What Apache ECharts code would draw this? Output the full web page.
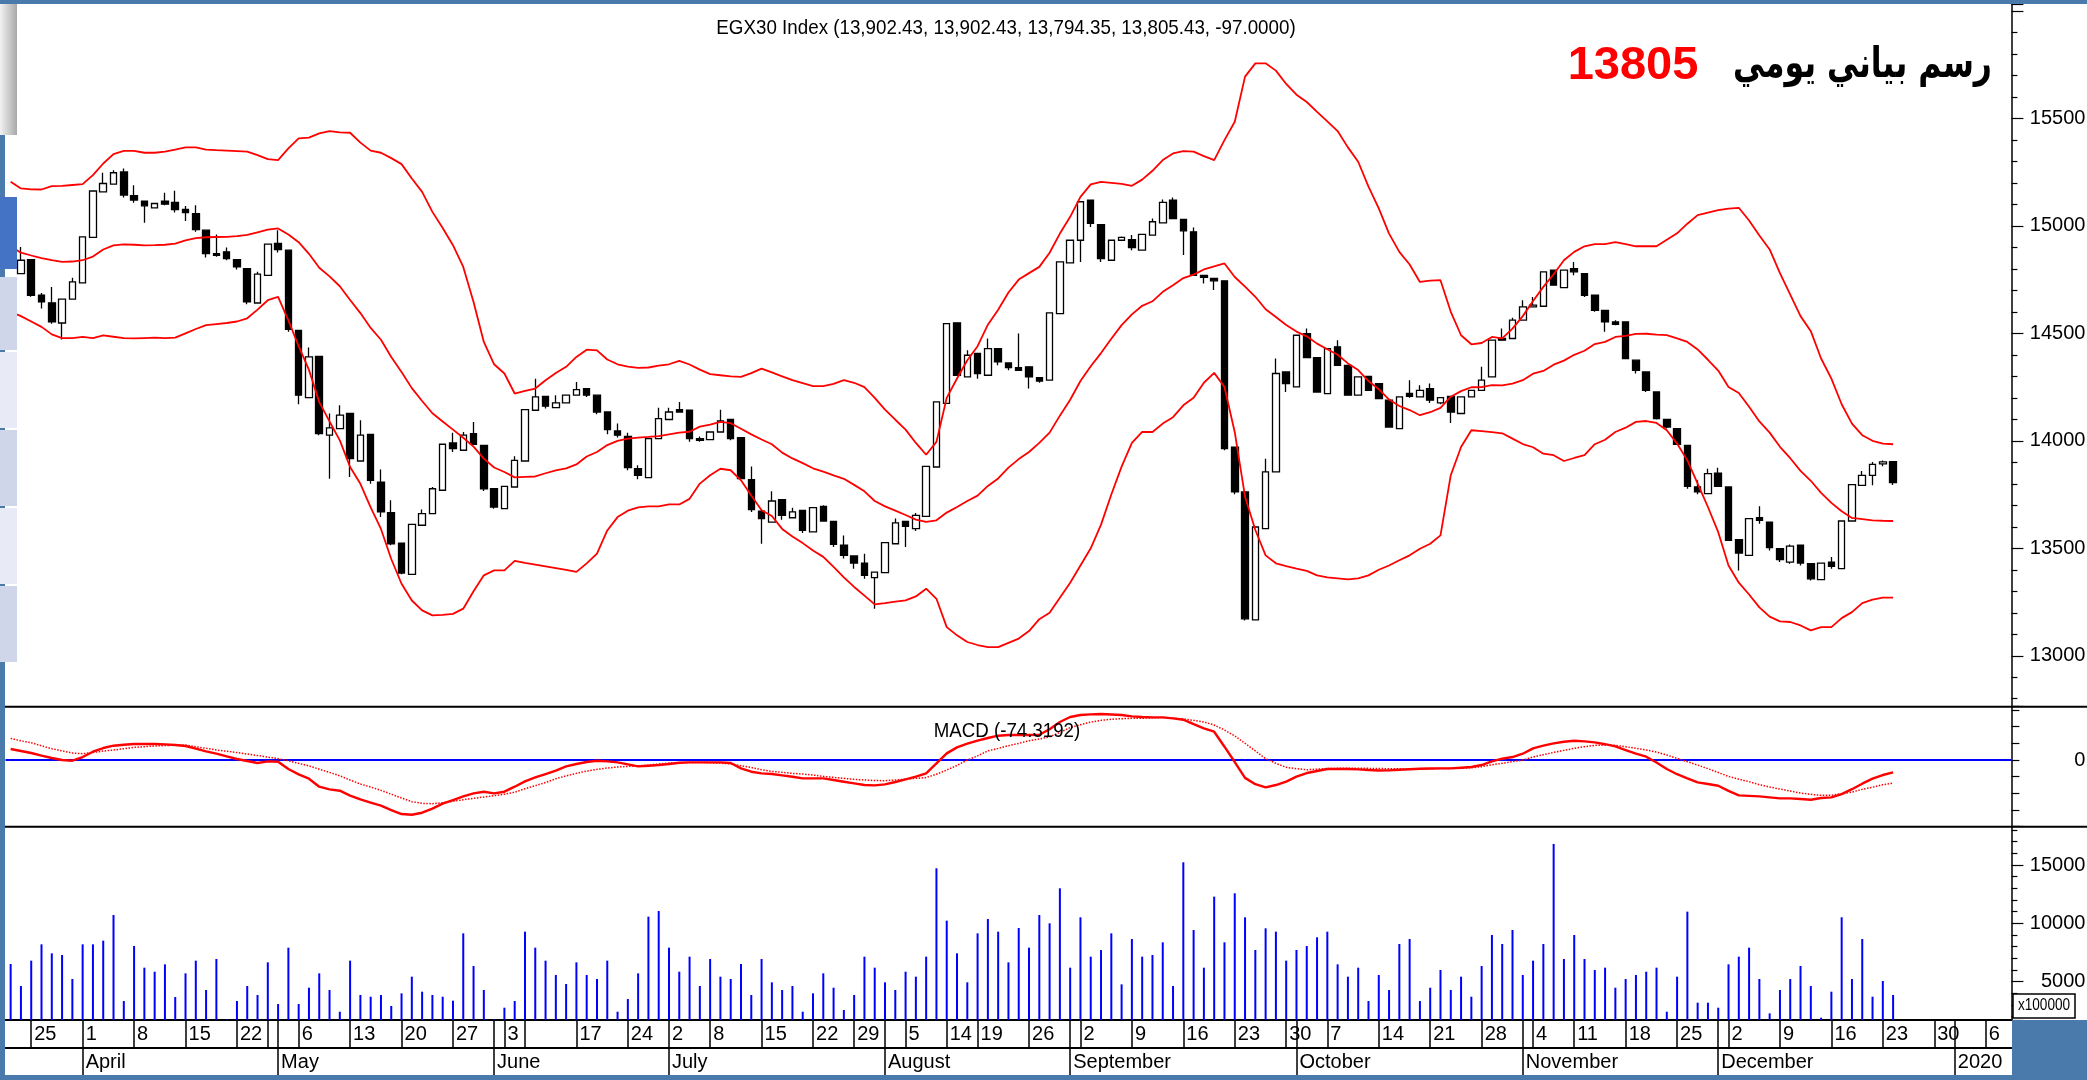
<!DOCTYPE html>
<html>
<head>
<meta charset="utf-8">
<script src="https://cdn.jsdelivr.net/npm/echarts@6/dist/echarts.min.js"></script>
<style>
html, body { margin: 0; padding: 0; background: #fff; }
#chart { width: 2087px; height: 1080px; }
</style>
</head>
<body>
<div id="chart"></div>
<script>
// trading days (Sun-Thu), the last ones are empty future slots
const dates = [
'2019-03-21','2019-03-24','2019-03-25','2019-03-26','2019-03-27','2019-03-28','2019-03-31',
'2019-04-01','2019-04-02','2019-04-03','2019-04-04','2019-04-07','2019-04-08','2019-04-09','2019-04-10','2019-04-11','2019-04-14','2019-04-15','2019-04-16','2019-04-17','2019-04-18','2019-04-21','2019-04-22','2019-04-23','2019-04-24','2019-04-30',
'2019-05-02','2019-05-05','2019-05-06','2019-05-07','2019-05-08','2019-05-09','2019-05-12','2019-05-13','2019-05-14','2019-05-15','2019-05-16','2019-05-19','2019-05-20','2019-05-21','2019-05-22','2019-05-23','2019-05-26','2019-05-27','2019-05-28','2019-05-29','2019-05-30',
'2019-06-02','2019-06-03','2019-06-09','2019-06-10','2019-06-11','2019-06-12','2019-06-13','2019-06-16','2019-06-17','2019-06-18','2019-06-19','2019-06-20','2019-06-23','2019-06-24','2019-06-25','2019-06-26','2019-06-27',
'2019-07-02','2019-07-03','2019-07-04','2019-07-07','2019-07-08','2019-07-09','2019-07-10','2019-07-11','2019-07-14','2019-07-15','2019-07-16','2019-07-17','2019-07-18','2019-07-21','2019-07-22','2019-07-24','2019-07-25','2019-07-28','2019-07-29','2019-07-30','2019-07-31',
'2019-08-01','2019-08-04','2019-08-05','2019-08-06','2019-08-07','2019-08-08','2019-08-14','2019-08-15','2019-08-18','2019-08-19','2019-08-20','2019-08-21','2019-08-22','2019-08-25','2019-08-26','2019-08-27','2019-08-28','2019-08-29',
'2019-09-01','2019-09-02','2019-09-03','2019-09-04','2019-09-05','2019-09-08','2019-09-09','2019-09-10','2019-09-11','2019-09-12','2019-09-15','2019-09-16','2019-09-17','2019-09-18','2019-09-19','2019-09-22','2019-09-23','2019-09-24','2019-09-25','2019-09-26','2019-09-29','2019-09-30',
'2019-10-01','2019-10-02','2019-10-03','2019-10-07','2019-10-08','2019-10-09','2019-10-10','2019-10-13','2019-10-14','2019-10-15','2019-10-16','2019-10-17','2019-10-20','2019-10-21','2019-10-22','2019-10-23','2019-10-24','2019-10-27','2019-10-28','2019-10-29','2019-10-30','2019-10-31',
'2019-11-03','2019-11-04','2019-11-05','2019-11-06','2019-11-07','2019-11-11','2019-11-12','2019-11-13','2019-11-14','2019-11-17','2019-11-18','2019-11-19','2019-11-20','2019-11-21','2019-11-24','2019-11-25','2019-11-26','2019-11-27','2019-11-28',
'2019-12-01','2019-12-02','2019-12-03','2019-12-04','2019-12-05','2019-12-08','2019-12-09','2019-12-10','2019-12-11','2019-12-12','2019-12-15','2019-12-16','2019-12-17','2019-12-18','2019-12-19','2019-12-22','2019-12-23','2019-12-24','2019-12-25','2019-12-26','2019-12-29','2019-12-30','2019-12-31',
'2020-01-01','2020-01-02','2020-01-05','2020-01-06','2020-01-07','2020-01-08'
];

// weekly tick labels (day of month), ticks without label, month starts
const dayTicks = ['2019-03-25','2019-04-01','2019-04-08','2019-04-15','2019-04-22','2019-05-06','2019-05-13','2019-05-20','2019-05-27',
  '2019-06-03','2019-06-17','2019-06-24','2019-07-02','2019-07-08','2019-07-15','2019-07-22','2019-07-29','2019-08-05','2019-08-14',
  '2019-08-19','2019-08-26','2019-09-02','2019-09-09','2019-09-16','2019-09-23','2019-09-30','2019-10-07','2019-10-14','2019-10-21',
  '2019-10-28','2019-11-04','2019-11-11','2019-11-18','2019-11-25','2019-12-02','2019-12-09','2019-12-16','2019-12-23','2019-12-30','2020-01-06'];
const blankTicks = ['2019-04-30','2019-06-10'];
const monthTicks = ['2019-04-01','2019-05-02','2019-06-02','2019-07-02','2019-08-01','2019-09-01','2019-10-01','2019-11-03','2019-12-01','2020-01-01'];
const monthNames = ['April','May','June','July','August','September','October','November','December','2020'];

const open = [14900,14778,14843,14677,14642,14548,14659,14735,14946,15158,
15194,15251,15140,15115,15084,15115,15109,15076,15057,14980,
14871,14879,14843,14801,14641,14770,14918,14887,14514,14201,
14393,14026,14057,14127,13906,14030,13808,13666,13524,13379,
13607,13661,13770,13990,13956,14033,13979,13777,13684,13785,
13906,14142,14207,14154,14176,14212,14243,14212,14134,14046,
14021,13870,13829,14010,14099,14145,14142,14010,14005,14041,
14099,14015,13819,13673,13622,13726,13642,13676,13576,13695,
13625,13514,13464,13431,13363,13387,13521,13625,13591,13648,
13878,14174,14549,14297,14406,14305,14429,14362,14340,14344,
14294,14282,14592,14828,14933,15120,15006,14840,14933,14936,
14887,14957,15014,15120,15030,14972,14770,14755,14744,13971,
13762,13167,13591,13855,14320,14251,14499,14387,14219,14437,
14351,14212,14300,14266,14189,14057,14220,14204,14243,14176,
14207,14127,14204,14235,14297,14476,14476,14561,14623,14626,
14794,14713,14801,14778,14677,14607,14553,14553,14375,14320,
14227,14099,14057,13979,13785,13754,13850,13785,13540,13467,
13642,13622,13498,13436,13514,13428,13354,13436,13405,13627,
13793,13839,13893,13902.43];

const high = [14920,14902,14843,14688,14716,14659,14758,14949,15162,15247,
15259,15267,15189,15115,15104,15154,15163,15092,15096,14980,
14960,14899,14843,14801,14786,14915,14980,14887,14514,14434,
14393,14127,14165,14127,14096,14030,13866,13723,13524,13611,
13680,13785,13984,14037,14041,14088,13979,13777,13788,13928,
14145,14289,14207,14212,14212,14274,14243,14212,14134,14080,
14037,13886,14010,14154,14154,14181,14142,14020,14041,14145,
14099,14015,13881,13673,13765,13726,13689,13676,13689,13700,
13625,13560,13464,13475,13389,13526,13638,13625,13664,13881,
14181,14545,14549,14421,14406,14476,14429,14362,14499,14344,
14294,14595,14832,14933,15112,15120,15006,14933,14950,14957,
14960,15034,15123,15132,15030,14992,14770,14755,14744,13971,
13762,13599,13917,14383,14320,14491,14522,14387,14429,14468,
14351,14297,14300,14266,14189,14204,14282,14258,14266,14201,
14207,14204,14235,14344,14468,14522,14572,14654,14669,14786,
14794,14794,14832,14778,14677,14607,14561,14553,14375,14320,
14227,14099,14057,13979,13816,13870,13875,13785,13540,13638,
13695,13622,13498,13518,13514,13428,13431,13459,13627,13796,
13860,13901,13908,13902.43];

const low = [14830,14778,14670,14615,14545,14471,14659,14735,14946,15158,
15194,15132,15107,15014,15084,15096,15062,15023,14972,14853,
14856,14840,14797,14635,14641,14770,14876,14507,14170,14201,
14026,13824,14057,13832,13906,13800,13645,13514,13379,13379,
13607,13661,13770,13948,13956,13984,13766,13684,13684,13785,
13906,14142,14150,14154,14176,14212,14204,14123,14030,14015,
13863,13821,13829,14010,14099,14134,13995,13995,14005,14041,
14002,13824,13669,13521,13622,13633,13642,13571,13576,13627,
13506,13452,13405,13358,13219,13387,13521,13506,13580,13648,
13878,14174,14305,14297,14289,14305,14351,14328,14328,14243,
14270,14282,14592,14828,14832,14995,14832,14840,14933,14887,
14887,14957,15014,15034,14864,14770,14732,14701,13956,13751,
13164,13167,13591,13855,14227,14251,14387,14227,14219,14351,
14212,14212,14235,14196,14064,14057,14200,14204,14176,14170,
14083,14127,14204,14235,14297,14468,14476,14561,14623,14626,
14724,14713,14770,14669,14600,14507,14538,14382,14313,14227,
14099,14057,13984,13777,13751,13754,13788,13537,13397,13467,
13614,13490,13436,13428,13420,13350,13354,13405,13405,13627,
13793,13793,13882,13794.35];

const close = [14850,14840,14677,14646,14553,14659,14739,14949,15162,15197,
15247,15143,15120,15093,15104,15101,15076,15062,14983,14871,
14863,14848,14809,14646,14775,14915,14890,14518,14212,14390,
14033,14060,14119,13917,14026,13816,13669,13521,13385,13611,
13661,13777,13984,13964,14026,13984,13777,13692,13788,13909,
14145,14204,14161,14176,14212,14238,14212,14134,14052,14026,
13875,13839,14010,14103,14134,14134,14010,14002,14041,14092,
14010,13824,13680,13638,13720,13653,13669,13583,13689,13627,
13518,13467,13431,13374,13389,13526,13618,13602,13653,13881,
14181,14545,14305,14398,14313,14429,14367,14340,14328,14297,
14278,14595,14832,14933,15112,15011,14848,14933,14946,14899,
14960,15019,15109,15034,14977,14770,14760,14744,13964,13762,
13172,13599,13855,14313,14266,14491,14387,14227,14429,14351,
14212,14297,14235,14196,14064,14204,14207,14235,14189,14201,
14134,14204,14235,14282,14468,14468,14561,14623,14631,14786,
14724,14794,14786,14677,14607,14553,14542,14382,14328,14235,
14103,14064,13984,13788,13762,13847,13788,13537,13478,13638,
13630,13503,13447,13510,13431,13358,13431,13416,13627,13796,
13839,13890,13902,13805.43];

// Bollinger bands as drawn
const upper = [15205,15174,15170,15169,15185,15186,15190,15194,15236,15290,
15334,15349,15349,15340,15340,15345,15355,15365,15365,15355,
15352,15350,15348,15345,15329,15310,15306,15360,15407,15410,
15430,15441,15435,15433,15387,15350,15340,15315,15287,15220,
15158,15065,14990,14910,14809,14646,14460,14356,14313,14220,
14232,14243,14282,14315,14344,14390,14424,14421,14378,14356,
14345,14339,14341,14350,14356,14372,14355,14331,14310,14305,
14300,14297,14315,14336,14318,14300,14282,14268,14254,14254,
14265,14282,14270,14250,14200,14145,14098,14052,13990,13935,
13995,14200,14290,14375,14440,14540,14610,14690,14750,14780,
14809,14875,14964,15042,15135,15193,15205,15200,15195,15186,
15215,15256,15306,15337,15348,15345,15324,15306,15399,15484,
15694,15756,15756,15722,15660,15610,15576,15530,15486,15441,
15365,15298,15182,15081,14964,14879,14820,14739,14745,14747,
14600,14491,14449,14455,14483,14476,14522,14580,14650,14716,
14775,14840,14879,14905,14915,14915,14924,14915,14905,14905,
14905,14935,14965,15010,15050,15062,15073,15080,15084,15025,
14955,14890,14780,14680,14580,14510,14383,14289,14170,14080,
14026,14000,13987,13984];

const middle = [14905,14875,14862,14850,14840,14832,14834,14840,14857,14890,
14909,14914,14912,14909,14910,14912,14917,14932,14943,14947,
14948,14949,14952,14958,14970,14982,14988,14960,14924,14870,
14805,14765,14719,14655,14594,14525,14470,14390,14320,14245,
14185,14128,14090,14052,14014,13973,13917,13876,13855,13830,
13832,13834,13849,13862,13872,13890,13927,13948,13980,14000,
14010,14015,14018,14022,14030,14038,14042,14066,14075,14088,
14082,14056,14030,14006,13984,13945,13918,13896,13872,13857,
13839,13823,13795,13765,13720,13695,13675,13655,13633,13623,
13630,13666,13692,13720,13745,13790,13825,13875,13915,13948,
13990,14038,14117,14191,14278,14347,14408,14475,14538,14588,
14628,14649,14693,14724,14757,14773,14797,14811,14825,14762,
14717,14670,14612,14576,14539,14508,14486,14452,14426,14400,
14360,14329,14278,14240,14192,14162,14143,14119,14133,14153,
14205,14231,14249,14250,14259,14258,14266,14282,14312,14325,
14354,14373,14400,14419,14450,14460,14483,14488,14497,14498,
14494,14492,14476,14460,14425,14377,14327,14250,14222,14158,
14090,14038,13972,13919,13860,13814,13758,13711,13672,13641,
13636,13630,13628,13627];

const lower = [14600,14580,14555,14530,14495,14478,14478,14483,14478,14490,
14484,14478,14476,14478,14480,14478,14480,14500,14520,14538,
14543,14548,14555,14570,14610,14654,14670,14560,14440,14330,
14180,14090,14002,13878,13800,13690,13590,13450,13335,13257,
13211,13188,13190,13195,13219,13300,13374,13397,13397,13441,
13432,13424,13416,13408,13400,13390,13430,13475,13583,13645,
13675,13690,13695,13695,13704,13704,13730,13801,13840,13870,
13863,13816,13746,13677,13650,13590,13555,13524,13490,13460,
13413,13365,13320,13280,13239,13245,13252,13258,13276,13312,
13265,13133,13095,13064,13050,13040,13040,13060,13080,13115,
13170,13200,13270,13340,13420,13500,13610,13750,13880,13990,
14041,14041,14080,14110,14165,14200,14270,14316,14250,14040,
13740,13585,13467,13430,13417,13405,13395,13374,13365,13360,
13355,13360,13374,13400,13420,13444,13467,13498,13521,13560,
13840,13971,14049,14045,14040,14035,14010,13985,13970,13940,
13933,13906,13920,13933,13984,14005,14041,14061,14088,14092,
14083,14049,13987,13909,13801,13692,13575,13420,13340,13285,
13225,13182,13160,13157,13141,13118,13133,13133,13175,13203,
13245,13261,13270,13270];

const macd = [66,54,42,26,12,0,-4,18,50,72,
86,92,96,96,96,94,90,84,68,52,
38,22,6,-6,-18,-8,-10,-54,-86,-112,
-160,-176,-184,-214,-236,-256,-274,-300,-324,-328,
-316,-292,-262,-240,-218,-200,-190,-200,-190,-160,
-128,-104,-84,-64,-38,-24,-12,-4,-8,-14,
-26,-38,-34,-30,-24,-16,-14,-14,-14,-14,
-18,-50,-70,-80,-84,-92,-100,-110,-110,-110,
-120,-130,-140,-150,-152,-146,-132,-116,-100,-80,
-20,40,76,98,116,132,146,150,150,150,
152,185,228,258,270,274,276,273,270,262,
258,256,256,250,242,215,190,170,80,-12,
-107,-145,-164,-150,-130,-100,-78,-66,-54,-54,
-54,-56,-60,-63,-62,-58,-55,-52,-51,-50,
-50,-46,-42,-30,-8,8,18,38,70,86,
100,110,116,112,106,95,82,60,38,20,
-15,-54,-85,-110,-134,-144,-154,-185,-212,-215,
-218,-224,-230,-230,-234,-238,-228,-224,-205,-175,
-142,-112,-90,-74.3];

const signal = [130,115,104,85,68,55,42,38,45,54,
60,68,76,80,84,87,89,90,80,70,
60,53,45,36,27,18,8,-4,-20,-35,
-55,-74,-95,-120,-144,-162,-182,-205,-228,-250,
-260,-262,-256,-248,-238,-230,-222,-214,-205,-193,
-172,-154,-135,-112,-95,-80,-66,-56,-48,-42,
-38,-35,-30,-24,-18,-16,-15,-14,-16,-19,
-23,-34,-45,-58,-68,-74,-80,-84,-90,-98,
-104,-110,-116,-120,-123,-124,-120,-115,-110,-105,
-85,-60,-32,0,25,55,70,86,100,116,
126,140,165,195,212,228,238,245,248,250,
251,253,255,252,246,238,228,210,180,145,
100,55,8,-20,-44,-52,-58,-55,-51,-50,
-50,-50,-50,-51,-52,-53,-54,-53,-52,-51,
-50,-48,-46,-40,-28,-20,-10,0,18,32,
46,58,70,80,88,90,88,80,70,60,
48,30,10,-10,-30,-52,-75,-98,-115,-130,
-148,-162,-174,-186,-198,-206,-212,-212,-202,-192,
-176,-163,-148,-138];

// volume in units of 100000
const volume = [6515,4628,6801,8202,7430,7287,5228,8202,8202,8516,
10718,3342,8059,6201,5857,6486,3685,5714,6801,4285,
6944,1769,3342,4628,3856,6658,3084,7916,3084,4485,
5714,4285,2427,6801,3856,3713,3856,2913,3999,5429,
4142,3856,3713,3370,9145,6343,4285,1769,2770,3342,
9288,7916,6801,5572,4800,6658,5572,5228,6801,2427,
3513,5714,10575,11061,7916,5857,7144,4628,6944,5429,
5228,6515,3856,6944,4943,4285,4628,2427,3999,5714,
4485,2570,3856,7144,6201,4943,4285,5857,5429,7144,
14720,10232,7430,4943,9145,10375,9288,6658,9603,7916,
10718,10003,13005,6201,10518,7144,7716,9145,4771,8659,
7144,7287,8374,4628,15235,9431,6201,12290,8374,12576,
10518,7716,9574,9288,6801,7716,8059,8803,9288,6486,
5429,6201,3342,5572,4285,8231,8659,3342,4485,6000,
4285,5429,3713,6343,9002,8231,9431,5572,6801,8231,
16807,6944,9002,6944,6000,6201,4485,5228,5572,5857,
6201,2427,5429,11004,3199,3199,2770,6486,7144,7916,
5228,2284,4285,5228,6343,4628,1912,4142,10518,5228,
8659,3713,5057,3856];

const SANS = '"Liberation Sans", Arial, sans-serif';
const BLUE = '#4a7aab';
const AXIS_FONT = 20;

const candles = open.map((o, i) => [o, close[i], low[i], high[i]]);

const rowTicks = new Set([...dayTicks, ...blankTicks, ...monthTicks]);
const showDayTick = (i, v) => rowTicks.has(v);
const dayLabel = v => dayTicks.includes(v) ? String(+v.slice(8)) : '';
const showMonthTick = (i, v) => monthTicks.includes(v);
const monthLabel = v => {
    const k = monthTicks.indexOf(v);
    return k < 0 ? '' : monthNames[k];
};

const gridLeft = 5.5, gridRight = 75.6;
const chart = echarts.init(document.getElementById('chart'), null, {renderer: 'canvas'});

const hiddenX = (idx) => ({
    gridIndex: idx, type: 'category', data: dates, boundaryGap: true, show: false
});

const rightAxisBase = {
    type: 'value',
    position: 'right',
    splitLine: {show: false},
    axisLine: {show: true, onZero: false, lineStyle: {color: '#000', width: 1.5}},
    axisTick: {show: true, length: 12, lineStyle: {color: '#000', width: 1.2}},
};

const rightLabel = fmt => ({
    formatter: fmt, align: 'right', margin: 74, color: '#000', fontSize: AXIS_FONT, fontFamily: SANS
});

const option = {
    animation: false,
    backgroundColor: '#fff',
    grid: [
        {left: gridLeft, right: gridRight, top: 4, height: 702.7, containLabel: false, outerBoundsMode: 'none'},
        {left: gridLeft, right: gridRight, top: 706.7, height: 120, containLabel: false, outerBoundsMode: 'none'},
        {left: gridLeft, right: gridRight, top: 826.7, height: 193.3, containLabel: false, outerBoundsMode: 'none'}
    ],
    xAxis: [
        hiddenX(0),
        hiddenX(1),
        {
            gridIndex: 2, type: 'category', data: dates, boundaryGap: true, position: 'bottom',
            axisLine: {show: true, lineStyle: {color: '#000', width: 2}},
            axisTick: {show: true, alignWithLabel: true, interval: showDayTick, length: 28, lineStyle: {color: '#000', width: 1.5}},
            axisLabel: {
                show: true, interval: showDayTick, formatter: dayLabel, align: 'left', verticalAlign: 'middle',
                margin: 14, padding: [0, 0, 0, 3], color: '#000', fontSize: AXIS_FONT, fontFamily: SANS
            }
        },
        {
            gridIndex: 2, type: 'category', data: dates, boundaryGap: true, position: 'bottom', offset: 28,
            axisLine: {show: true, lineStyle: {color: '#000', width: 2}},
            axisTick: {show: true, alignWithLabel: true, interval: showMonthTick, length: 27, lineStyle: {color: '#000', width: 1.5}},
            axisLabel: {
                show: true, interval: showMonthTick, formatter: monthLabel, align: 'left', verticalAlign: 'middle',
                margin: 14, padding: [0, 0, 0, 3], color: '#000', fontSize: AXIS_FONT, fontFamily: SANS
            }
        }
    ],
    yAxis: [
        Object.assign({}, rightAxisBase, {
            gridIndex: 0, min: 12763, max: 16032, splitNumber: 6,
            minorTick: {show: true, splitNumber: 5, length: 6, lineStyle: {color: '#000', width: 1.2}},
            axisLabel: rightLabel(v => (v % 500 === 0 && v <= 15500) ? String(v) : '')
        }),
        Object.assign({}, rightAxisBase, {
            gridIndex: 1, min: -400, max: 320, splitNumber: 5,
            axisTick: {show: true, length: 8, lineStyle: {color: '#000', width: 1.2}},
            axisLabel: rightLabel(v => v === 0 ? '0' : '')
        }),
        Object.assign({}, rightAxisBase, {
            gridIndex: 2, min: 1715, max: 18285, splitNumber: 3, startValue: 1715,
            minorTick: {show: true, splitNumber: 5, length: 6, lineStyle: {color: '#000', width: 1.2}},
            axisLabel: rightLabel(v => (v % 5000 === 0) ? String(v) : '')
        })
    ],
    series: [
        {
            name: 'EGX30', type: 'candlestick', xAxisIndex: 0, yAxisIndex: 0, data: candles, barWidth: 7, z: 2,
            itemStyle: {color: '#ffffff', color0: '#000000', borderColor: '#000000', borderColor0: '#000000', borderColorDoji: '#000000', borderWidth: 1.3}
        },
        {name: 'upper', type: 'line', xAxisIndex: 0, yAxisIndex: 0, data: upper, symbol: 'none', z: 3,
            lineStyle: {color: '#ff0000', width: 1.8}},
        {name: 'middle', type: 'line', xAxisIndex: 0, yAxisIndex: 0, data: middle, symbol: 'none', z: 3,
            lineStyle: {color: '#ff0000', width: 1.8}},
        {name: 'lower', type: 'line', xAxisIndex: 0, yAxisIndex: 0, data: lower, symbol: 'none', z: 3,
            lineStyle: {color: '#ff0000', width: 1.8}},
        {name: 'signal', type: 'line', xAxisIndex: 1, yAxisIndex: 1, data: signal, symbol: 'none', z: 3,
            lineStyle: {color: '#ff0000', width: 1.5, type: 'dotted'},
            markLine: {
                silent: true, symbol: ['none', 'none'], label: {show: false}, z: 1,
                lineStyle: {color: '#0000ff', width: 2, type: 'solid'},
                data: [{yAxis: 0}]
            }},
        {name: 'MACD', type: 'line', xAxisIndex: 1, yAxisIndex: 1, data: macd, symbol: 'none', z: 4,
            lineStyle: {color: '#ff0000', width: 2.4}},
        {name: 'volume', type: 'bar', xAxisIndex: 2, yAxisIndex: 2, data: volume, barWidth: 2, clip: true,
            itemStyle: {color: '#0000ff'}}
    ],
    graphic: [
        // window frame
        {type: 'rect', z: 100, shape: {x: 0, y: 0, width: 2087, height: 4}, style: {fill: BLUE}},
        {type: 'rect', z: 100, shape: {x: 0, y: 1075, width: 2087, height: 5}, style: {fill: BLUE}},
        {type: 'rect', z: 100, shape: {x: 0, y: 0, width: 5, height: 1080}, style: {fill: BLUE}},
        {type: 'rect', z: 100, shape: {x: 2012, y: 1020, width: 75, height: 60}, style: {fill: BLUE}},
        // side tool strip
        {type: 'rect', z: 101, shape: {x: 0, y: 4, width: 17, height: 131},
            style: {fill: new echarts.graphic.LinearGradient(0, 0, 1, 0, [{offset: 0, color: '#f2f2f2'}, {offset: 1, color: '#a8a8a8'}])}},
        {type: 'rect', z: 101, shape: {x: 0, y: 197, width: 17, height: 72}, style: {fill: '#4472c4'}},
        {type: 'rect', z: 101, shape: {x: 0, y: 277, width: 17, height: 73}, style: {fill: '#cfd6ea'}},
        {type: 'rect', z: 101, shape: {x: 0, y: 352, width: 17, height: 76}, style: {fill: '#e8ebf5'}},
        {type: 'rect', z: 101, shape: {x: 0, y: 430, width: 17, height: 76}, style: {fill: '#cfd6ea'}},
        {type: 'rect', z: 101, shape: {x: 0, y: 508, width: 17, height: 76}, style: {fill: '#e8ebf5'}},
        {type: 'rect', z: 101, shape: {x: 0, y: 586, width: 17, height: 76}, style: {fill: '#cfd6ea'}},
        // panel separators
        {type: 'line', z: 50, shape: {x1: 5, y1: 706.7, x2: 2087, y2: 706.7}, style: {stroke: '#000', lineWidth: 2}},
        {type: 'line', z: 50, shape: {x1: 5, y1: 826.7, x2: 2087, y2: 826.7}, style: {stroke: '#000', lineWidth: 2}},
        // texts (condensed with scaleX, the original face is a narrow one)
        {type: 'text', z: 60, x: 1006, y: 28, scaleX: 0.894, style: {
            text: 'EGX30 Index (13,902.43, 13,902.43, 13,794.35, 13,805.43, -97.0000)',
            fill: '#000', font: '21px ' + SANS, align: 'center', verticalAlign: 'middle'}},
        {type: 'text', z: 60, x: 1007, y: 731, scaleX: 0.89, style: {
            text: 'MACD (-74.3192)', fill: '#000', font: '21px ' + SANS, align: 'center', verticalAlign: 'middle'}},
        {type: 'text', z: 60, x: 1633, y: 66, style: {
            text: '13805', fill: '#ff0000', font: 'bold 47px ' + SANS, align: 'center', verticalAlign: 'middle'}},
        {type: 'text', z: 60, x: 1992, y: 66, scaleX: 0.75, style: {
            text: 'رسم بياني يومي', fill: '#000', font: 'bold 42px "DejaVu Sans", sans-serif', align: 'right', verticalAlign: 'middle'}},
        {type: 'rect', z: 60, shape: {x: 2013, y: 994, width: 62, height: 24}, style: {fill: '#fff', stroke: '#000', lineWidth: 1.5}},
        {type: 'text', z: 61, x: 2044, y: 1006, scaleX: 0.85, style: {
            text: 'x100000', fill: '#000', font: '16px ' + SANS, align: 'center', verticalAlign: 'middle'}}
    ]
};

chart.setOption(option);
</script>
</body>
</html>
